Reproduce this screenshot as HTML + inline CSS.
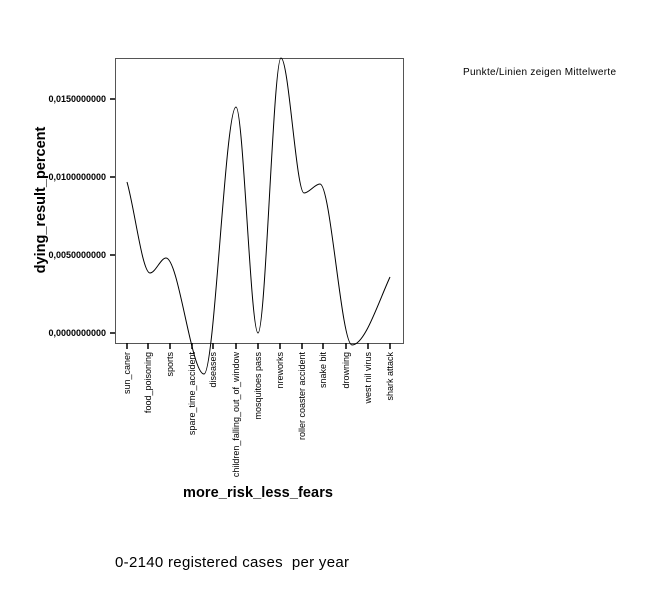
<!DOCTYPE html>
<html><head><style>
body{margin:0;background:#fff;}
svg text{font-family:"Liberation Sans",Arial,sans-serif;}
</style></head><body>
<svg width="654" height="599" xmlns="http://www.w3.org/2000/svg">
<rect x="115.5" y="58.5" width="288" height="285" fill="#fff" stroke="#555" stroke-width="1"/>
<g stroke="#000" stroke-width="1.5">
<line x1="110" y1="99" x2="115" y2="99"/>
<line x1="110" y1="177" x2="115" y2="177"/>
<line x1="110" y1="255" x2="115" y2="255"/>
<line x1="110" y1="333" x2="115" y2="333"/>
</g>
<g font-size="9" font-weight="bold" text-anchor="end">
<text x="106" y="102">0,0150000000</text>
<text x="106" y="180">0,0100000000</text>
<text x="106" y="258">0,0050000000</text>
<text x="106" y="336">0,0000000000</text>
</g>
<text transform="translate(45,200) rotate(-90)" font-size="14.5" font-weight="bold" text-anchor="middle">dying_result_percent</text>
<g id="xt" stroke="#000" stroke-width="1.5"></g>
<g id="xl" font-size="9"></g>
<path id="curve" fill="none" stroke="#000" stroke-width="1"/>
<text x="183" y="497" font-size="14.5" font-weight="bold" textLength="150">more_risk_less_fears</text>
<text x="115" y="567" font-size="15" textLength="234" xml:space="preserve">0-2140 registered cases  per year</text>
<text x="463" y="75" font-size="10" textLength="153">Punkte/Linien zeigen Mittelwerte</text>
</svg>
<script>
var xs=[127,148,170,192,213,236,258,280,302,323,346,368,390];
var labels=["sun_caner","food_poisoning","sports","spare_time_accident","diseases","children_falling_out_of_window","mosquitoes pass","nreworks","roller coaster accident","snake bit","drowning","west nil virus","shark attack"];
var ns="http://www.w3.org/2000/svg";
var xt=document.getElementById('xt'),xl=document.getElementById('xl');
xs.forEach(function(x,i){
 var l=document.createElementNS(ns,'line');l.setAttribute('x1',x);l.setAttribute('x2',x);l.setAttribute('y1',343);l.setAttribute('y2',349);xt.appendChild(l);
 var t=document.createElementNS(ns,'text');t.setAttribute('transform','translate('+(x+3)+',352) rotate(-90)');t.setAttribute('text-anchor','end');t.textContent=labels[i];xl.appendChild(t);
});
var p=[[127,182,3.5],[150,273,0],[166,258,0],[204,374,0],[236,107,0],[258,333,0],[281,58,0],[304,193,0],[320,184,0],[352,345,0],[390,277,-2.2]];
var d='M'+p[0][0]+','+p[0][1];
for(var i=0;i<p.length-1;i++){
 var a=p[i],b=p[i+1],dx=(b[0]-a[0])/3;
 d+=' C'+(a[0]+dx)+','+(a[1]+a[2]*dx)+' '+(b[0]-dx)+','+(b[1]-b[2]*dx)+' '+b[0]+','+b[1];
}
document.getElementById('curve').setAttribute('d',d);
</script>
</body></html>
